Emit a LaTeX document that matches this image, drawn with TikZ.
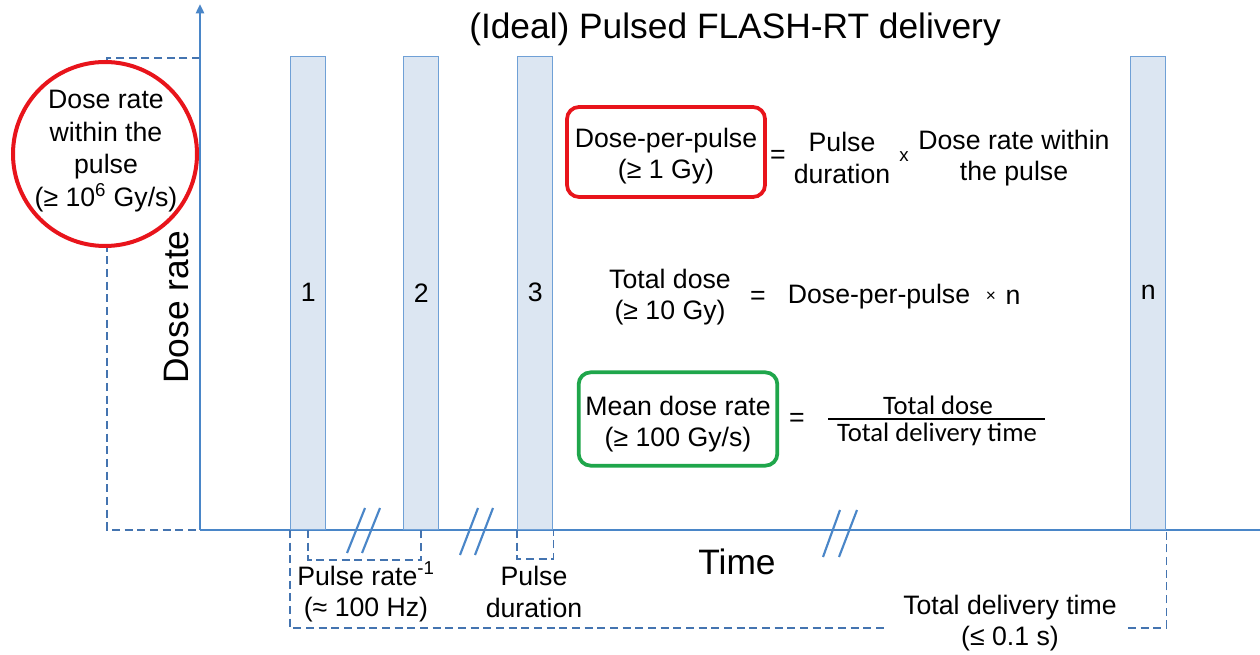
\documentclass[tikz,border=0pt]{standalone}
\usepackage{fontspec}
\setmainfont{Liberation Sans}
\newfontfamily\calfont{Carlito}
\usetikzlibrary{arrows.meta}
\definecolor{axisblue}{HTML}{4A86C8}
\definecolor{pulsefill}{HTML}{DCE6F2}
\definecolor{pulseedge}{HTML}{6FA0D6}
\definecolor{dashblue}{HTML}{4474B0}
\definecolor{circred}{HTML}{E8141B}
\definecolor{boxgreen}{HTML}{1FA64B}
\begin{document}
\begin{tikzpicture}[x=0.75pt,y=-0.75pt,
  txt/.style={font=\fontsize{20}{23.5}\selectfont, align=center, inner sep=0pt},
  bigtxt/.style={font=\fontsize{26.5}{30}\selectfont, align=center, inner sep=0pt},
  pulsebar/.style={draw=pulseedge, fill=pulsefill, line width=1.1pt, anchor=south west,
    minimum width=26.25pt, minimum height=354.75pt, inner sep=0pt,
    font=\fontsize{20}{23.5}\selectfont},
  axisline/.style={draw=axisblue, line width=2pt},
  dashline/.style={draw=dashblue, line width=1.4pt, dash pattern=on 6pt off 3.5pt},
  brk/.style={draw=axisblue, line width=1.6pt},
  redbox/.style={draw=circred, line width=2.8pt, rounded corners=9pt, minimum width=148.5pt, minimum height=67.5pt},
  greenbox/.style={draw=boxgreen, line width=2.8pt, rounded corners=9pt, minimum width=149pt, minimum height=70pt}
]
\useasboundingbox (0,0) rectangle (1260,655);
\fill[white] (0,0) rectangle (1260,655);

% axes
\coordinate (O) at (200,530);
\coordinate (ytop) at (200,4);
\coordinate (xend) at (1260,530);
\coordinate (dTR) at (200,58);
\coordinate (dTL) at (107,58);
\coordinate (dBL) at (107,530);
\draw[dashline] (dTR) -- (dTL) -- (dBL) -- (O);
\draw[axisline, -{Triangle[length=7pt,width=6pt]}] (O) -- (ytop);
\draw[axisline] (O) -- (xend);

% pulses
\node[pulsebar] (p1) at (290,530) {1};
\node[pulsebar] (p2) at (403,530) {2};
\node[pulsebar] (p3) at (517,530) {3};
\node[pulsebar] (pn) at (1130,530) {n};

% breaks
\draw[brk] (347,553) -- (365,508);
\draw[brk] (362,553) -- (380,508);
\draw[brk] (460,555) -- (478,508);
\draw[brk] (475,555) -- (493,508);
\draw[brk] (823,557) -- (840,510);
\draw[brk] (839,557) -- (857,510);

% brackets
\draw[dashline] (p1.south) -- ++(0,30) -| (p2.south);
\draw[dashline] (p3.south west) -- ++(0,29) -| (p3.south east);
\coordinate (tdl) at (885,628);
\coordinate (tdr) at (1128,628);
\draw[dashline] (p1.south west) -- ++(0,98) -- (tdl);
\draw[dashline] (tdr) -| (pn.south east);

% circle
\node[circle, draw=circred, line width=3pt, fill=white, minimum size=138pt, inner sep=0pt] (circ) at (105,154) {};
\node[txt, font=\fontsize{20}{24.5}\selectfont] (circtxt) at (106,151) {Dose rate\\within the\\pulse\\(≥ 10\textsuperscript{6} Gy/s)};

% labels
\node[bigtxt] (title) at (735,29) {(Ideal) Pulsed FLASH-RT delivery};
\node[bigtxt, rotate=90] (ylab) at (177,307) {Dose rate};
\node[bigtxt] (xlab) at (737,562) {Time};

\node[txt] (prate) at (366,592) {Pulse rate\textsuperscript{-1}\\(≈ 100 Hz)};
\node[txt] (pdur) at (534,592) {Pulse\\duration};
\node[txt] (tdt) at (1010,623) {Total delivery time\\(≤ 0.1 s)};

% equation 1
\node[redbox] (dpp) at (666,152) {};
\node[txt] (dpptxt) at (666,156) {Dose-per-pulse\\(≥ 1 Gy)};
\node[txt] (eq1) at (778,157) {=};
\node[txt] (pd) at (842,158) {Pulse\\duration};
\node[txt, font=\fontsize{14}{16}\selectfont] (x1) at (904,157) {x};
\node[txt] (drw) at (1014,158) {Dose rate within\\the pulse};

% equation 2
\node[txt] (td) at (670,297) {Total dose\\(≥ 10 Gy)};
\node[txt] (eq2) at (758,298) {=};
\node[txt] (dpp2) at (879,297) {Dose-per-pulse};
\node[txt, font=\fontsize{13}{16}\selectfont] (x2) at (991,297) {×};
\node[txt] (nn) at (1013,297) {n};

% equation 3
\node[greenbox] (mdr) at (678,419) {};
\node[txt] (mdrtxt) at (678,424) {Mean dose rate\\(≥ 100 Gy/s)};
\node[txt] (eq3) at (797,420) {=};
\node[txt, font=\calfont\fontsize{20}{23}\selectfont] (num) at (938,405) {Total dose};
\coordinate (fracL) at (828,419);
\coordinate (fracR) at (1045,419);
\draw[line width=1.3pt] (fracL) -- (fracR);
\node[txt, font=\calfont\fontsize{20}{23}\selectfont] (den) at (937,434) {Total delivery time};
\end{tikzpicture}
\end{document}
